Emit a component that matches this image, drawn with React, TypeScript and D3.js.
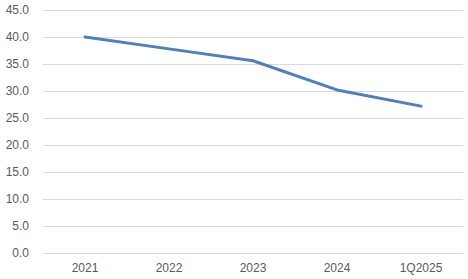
import React from "react";
import * as d3 from "d3";

const categories = ["2021", "2022", "2023", "2024", "1Q2025"];
const values = [40.0, 37.8, 35.6, 30.2, 27.2];
const yTicks = [0, 5, 10, 15, 20, 25, 30, 35, 40, 45];

const W = 468;
const H = 279;
const M = { left: 43, right: 5, top: 10, bottom: 26 };

export default function App() {
  const x = d3
    .scaleBand<string>()
    .domain(categories)
    .range([M.left, W - M.right]);
  const y = d3
    .scaleLinear()
    .domain([0, 45])
    .range([H - M.bottom, M.top]);
  const line = d3
    .line<number>()
    .x((_, i) => (x(categories[i]) as number) + x.bandwidth() / 2)
    .y((d) => y(d));

  return (
    <svg
      width={W}
      height={H}
      style={{ position: "absolute", left: 0, top: 0, background: "#fff" }}
      fontFamily="'Liberation Sans', Arial, sans-serif"
    >
      {yTicks.map((t) => (
        <g key={t}>
          <line
            x1={M.left}
            x2={W - M.right}
            y1={Math.round(y(t)) + 0.5}
            y2={Math.round(y(t)) + 0.5}
            stroke="#d9d9d9"
            strokeWidth={1}
          />
          <text
            x={29}
            y={y(t)}
            dy="0.35em"
            textAnchor="end"
            fontSize={12}
            fill="#595959"
          >
            {t.toFixed(1)}
          </text>
        </g>
      ))}
      {categories.map((c) => (
        <text
          key={c}
          x={(x(c) as number) + x.bandwidth() / 2}
          y={268}
          dy="0.35em"
          textAnchor="middle"
          fontSize={12}
          fill="#595959"
        >
          {c}
        </text>
      ))}
      <path
        d={line(values) || ""}
        fill="none"
        stroke="#4f7fbc"
        strokeWidth={3}
        strokeLinejoin="round"
        strokeLinecap="round"
      />
    </svg>
  );
}
